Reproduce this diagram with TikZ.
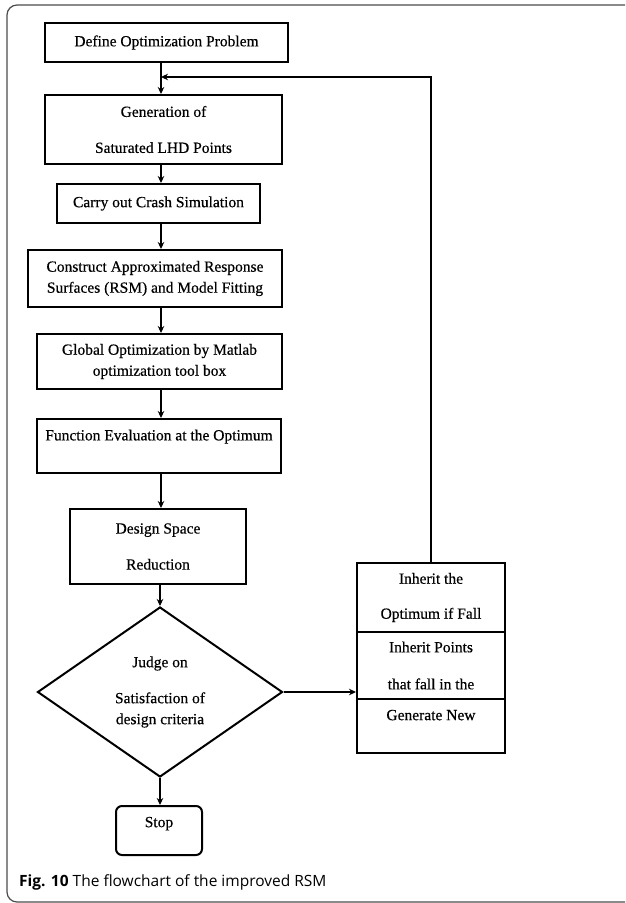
\documentclass[tikz,border=0pt]{standalone}
\usepackage{fontspec}
\setmainfont{Liberation Serif}
\newfontfamily\boxfont[FakeBold=0.45]{Liberation Serif}
\newfontfamily\capfont{Open Sans}
\usetikzlibrary{arrows.meta,shapes.geometric}

\begin{document}
\begin{tikzpicture}[x=1pt, y=-1pt,
    box/.style={rectangle, draw, line width=2pt, inner sep=0pt, align=center,
                font=\boxfont\fontsize{15.5}{19}\selectfont},
    decide/.style={diamond, draw, line width=2pt, inner sep=0pt, align=center,
                   shape aspect=1.44, font=\boxfont\fontsize{15.5}{19}\selectfont},
    flow/.style={line width=1.5pt, -{Stealth[length=7pt,width=6.5pt]}}]
    \useasboundingbox (0,0) rectangle (625,903);
    \begin{scope}
        \clip (0,0) rectangle (625,903);
        \draw[black!70, line width=1.2pt, rounded corners=10pt] (7,5) rectangle (650,902);
    \end{scope}
    % main column
    \node[box, minimum width=243pt, minimum height=39pt] (def) at (166.5,42.5) {Define Optimization Problem};
    \node[box, minimum width=237pt, minimum height=69pt] (gen) at (163.5,129.5) {Generation of\\[17pt]Saturated LHD Points};
    \node[box, minimum width=203pt, minimum height=39pt] (crash) at (158.5,203.5) {Carry out Crash Simulation};
    \node[box, minimum width=254pt, minimum height=57pt] (rsm) at (155,278.5) {Construct Approximated Response\\[2pt]Surfaces (RSM) and Model Fitting};
    \node[box, minimum width=245pt, minimum height=55pt] (glob) at (159.5,361.5) {Global Optimization by Matlab\\[2pt]optimization tool box};
    \node[box, minimum width=244pt, minimum height=54pt] (func) at (159,446) {Function Evaluation at the Optimum\\[3pt]~};
    \node[box, minimum width=176pt, minimum height=75pt] (red) at (158,546.5) {Design Space\\[17pt]Reduction};
    \node[decide, minimum width=245pt, minimum height=170pt] (judge) at (160,692) {Judge on\\[17pt]Satisfaction of\\[2pt]design criteria};
    \node[box, rounded corners=6pt, minimum width=86pt, minimum height=49pt] (stop) at (159,830.5) {Stop\\[-2pt]~};
    % right column
    \node[box, minimum width=148pt, minimum height=69pt] (inh1) at (431,597.5) {Inherit the\\[16pt]Optimum if Fall};
    \node[box, minimum width=148pt, minimum height=67pt] (inh2) at (431,665.5) {Inherit Points\\[18pt]that fall in the};
    \node[box, minimum width=148pt, minimum height=54pt] (inh3) at (431,726) {Generate New\\[3pt]~};
    \coordinate (loop) at (161,77);
    % connectors
    \draw[line width=1.5pt] (def.south -| loop) -- (loop);
    \draw[flow] (loop) -- (gen.north -| loop);
    \draw[flow] (gen.south -| loop) -- (crash.north -| loop);
    \draw[flow] (crash.south -| loop) -- (rsm.north -| loop);
    \draw[flow] (rsm.south -| loop) -- (glob.north -| loop);
    \draw[flow] (glob.south -| loop) -- (func.north -| loop);
    \draw[flow] (func.south -| loop) -- (red.north -| loop);
    \draw[flow] (red.south -| judge) -- (judge.north);
    \draw[flow] (judge.south) -- (stop.north -| judge.south);
    \draw[flow] (judge.east) -- (judge.east -| inh2.west);
    \draw[flow] (inh1.north) |- (loop);
    % caption
    \node[anchor=west, inner sep=0pt, font=\capfont\fontsize{15.5}{18}\selectfont] (cap) at (19,882)
        {\textbf{Fig. 10} The flowchart of the improved RSM};
\end{tikzpicture}
\end{document}
